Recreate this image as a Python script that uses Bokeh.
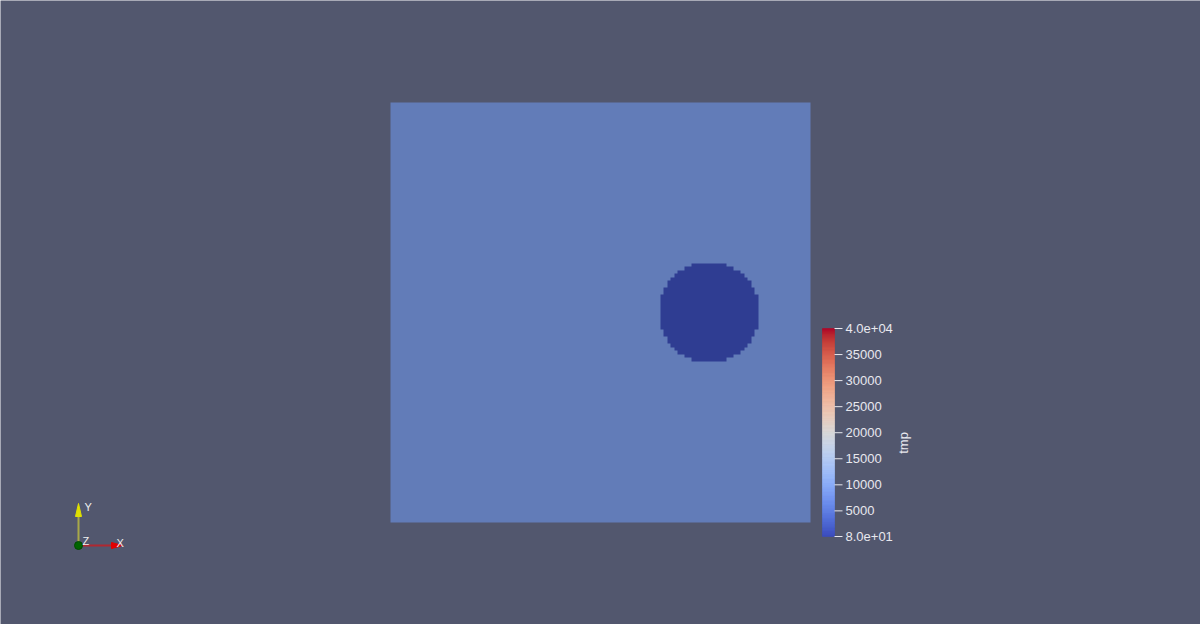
import numpy as np
from bokeh.plotting import figure
from bokeh.models import Range1d, LinearColorMapper
from bokeh.core.properties import value
from bokeh.embed import file_html
from bokeh.resources import INLINE

# ---------------- data ----------------
field_name = "tmp"
tmp_min = 80
tmp_max = 40000
tmp_outside = 5500          # value of the plate
tmp_inside = 80             # value inside the disc
circle_cx = 0.7583          # disc centre (unit square coords)
circle_cy = 0.5
circle_r = 0.11933
grid_cells = 120
tick_values = [80, 5000, 10000, 15000, 20000, 25000, 30000, 35000, 40000]
tick_labels = ["8.0e+01", "5000", "10000", "15000", "20000", "25000", "30000", "35000", "4.0e+04"]
# rendered (lit) colours of the two regions
render_colors = ["#2f3d92", "#627cb8"]
# ParaView "Cool to Warm" control points
cw_pos = [i / 32 for i in range(33)]
cw_rgb = [
    (59, 76, 192), (68, 90, 204), (77, 104, 215), (87, 117, 225), (98, 130, 234),
    (108, 142, 241), (119, 154, 247), (130, 165, 251), (141, 176, 254), (152, 185, 255),
    (163, 194, 255), (174, 201, 253), (184, 208, 249), (194, 213, 244), (204, 217, 238),
    (213, 219, 230), (221, 221, 221), (229, 216, 209), (236, 211, 197), (241, 204, 185),
    (245, 196, 173), (247, 187, 160), (247, 177, 148), (247, 166, 135), (244, 154, 123),
    (241, 141, 111), (236, 127, 99), (229, 112, 88), (222, 96, 77), (213, 80, 66),
    (203, 62, 56), (192, 40, 47), (180, 4, 38),
]

BG = "#52576e"
TXT = "#e8e8ee"

# ---------------- figure ----------------
W, H = 1200, 624
sq_left, sq_bottom, sq_px = 390, 102, 420.0
p = figure(width=W, height=H, output_backend="svg", toolbar_location=None,
           x_range=Range1d(-sq_left / sq_px, (W - sq_left) / sq_px),
           y_range=Range1d(-sq_bottom / sq_px, (H - sq_bottom) / sq_px),
           min_border=0, min_border_left=0, min_border_right=0,
           min_border_top=0, min_border_bottom=0,
           background_fill_color=BG, border_fill_color=BG, outline_line_color=None)
p.axis.visible = False
p.grid.visible = False

# ---------------- field (rasterised on the grid) ----------------
c = (np.arange(grid_cells) + 0.5) / grid_cells
X, Y = np.meshgrid(c, c)
field = np.where((X - circle_cx) ** 2 + (Y - circle_cy) ** 2 <= circle_r ** 2,
                 tmp_inside, tmp_outside).astype(float)
mapper = LinearColorMapper(palette=render_colors, low=tmp_inside, high=tmp_outside)
p.image(image=[field], x=0, y=0, dw=1, dh=1, color_mapper=mapper)

# ---------------- colour legend ----------------
bar_bottom_px, bar_top_px = 88, 296
span = (tmp_max - tmp_min) / (bar_top_px - bar_bottom_px)
p.extra_x_ranges = {"px": Range1d(0, W)}
p.extra_y_ranges = {"px": Range1d(0, H),
                    "cb": Range1d(tmp_min - bar_bottom_px * span,
                                  tmp_min + (H - bar_bottom_px) * span)}

n = 256
t = np.linspace(0, 1, n + 1)
mid = (t[:-1] + t[1:]) / 2
rgb = np.array(cw_rgb, dtype=float)
cols = []
for m in mid:
    r = np.interp(m, cw_pos, rgb[:, 0])
    g = np.interp(m, cw_pos, rgb[:, 1])
    b = np.interp(m, cw_pos, rgb[:, 2])
    cols.append("#%02x%02x%02x" % (int(round(r)), int(round(g)), int(round(b))))
vals = tmp_min + t * (tmp_max - tmp_min)
p.quad(left=822, right=834, bottom=vals[:-1], top=vals[1:], fill_color=cols,
       line_color=cols, line_width=0.5, x_range_name="px", y_range_name="cb")

p.segment(x0=834, x1=842, y0=tick_values, y1=tick_values, line_color=TXT,
          line_width=1, x_range_name="px", y_range_name="cb")
p.text(x=845, y=tick_values, text=tick_labels, text_font=value("Liberation Sans"),
       text_font_size="13px", text_color=TXT, text_baseline="middle", text_align="left",
       x_range_name="px", y_range_name="cb")
p.text(x=[903], y=[(tmp_min + tmp_max) / 2 - 2000], text=[field_name],
       text_font=value("Liberation Sans"), text_font_size="13px", text_color=TXT,
       text_baseline="middle", text_align="center", angle=np.pi / 2,
       x_range_name="px", y_range_name="cb")

# ---------------- orientation axes ----------------
ox, oy = 78, 79
p.segment(x0=[ox], y0=[oy], x1=[ox], y1=[oy + 30], line_color="#a8a848", line_width=2,
          x_range_name="px", y_range_name="px")
p.patch(x=[ox - 3, ox + 3, ox], y=[oy + 29, oy + 29, oy + 42], fill_color="#e0e000",
        line_color="#e0e000", x_range_name="px", y_range_name="px")
p.segment(x0=[ox], y0=[oy], x1=[ox + 35], y1=[oy], line_color="#b02830", line_width=2,
          x_range_name="px", y_range_name="px")
p.patch(x=[ox + 33, ox + 33, ox + 44], y=[oy - 3, oy + 3, oy], fill_color="#e00000",
        line_color="#e00000", x_range_name="px", y_range_name="px")
p.scatter(x=[ox], y=[oy], size=8, fill_color="#006400", line_color="#004a00",
          x_range_name="px", y_range_name="px")
p.text(x=[84, 82, 116], y=[118, 84, 82], text=["Y", "Z", "X"],
       text_font=value("Liberation Sans"), text_font_size="11px", text_color="#f0f0f0",
       text_baseline="middle", text_align="left", x_range_name="px", y_range_name="px")

open("out.html", "w").write(file_html(p, INLINE))
